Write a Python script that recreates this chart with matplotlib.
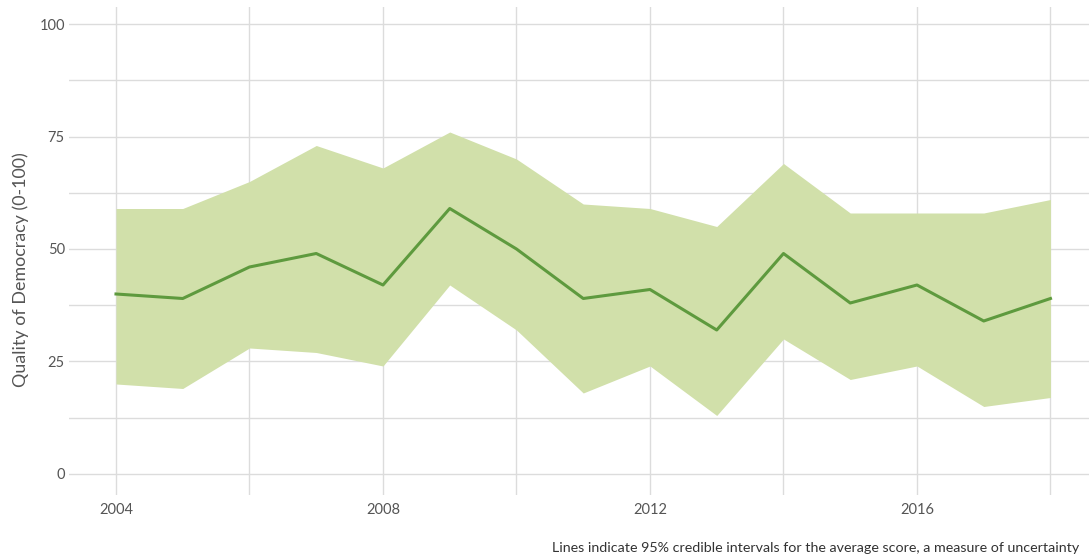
import matplotlib
matplotlib.use("Agg")
import matplotlib.pyplot as plt
import numpy as np

years = list(range(2004, 2019))
mean_score = [40, 39, 46, 49, 42, 59, 50, 39, 41, 32, 49, 38, 42, 34, 39]
upper = [59, 59, 65, 73, 68, 76, 70, 60, 59, 55, 69, 58, 58, 58, 61]
lower = [20, 19, 28, 27, 24, 42, 32, 18, 24, 13, 30, 21, 24, 15, 17]

y_major = [0, 25, 50, 75, 100]
x_major = [2004, 2008, 2012, 2016]

plt.rcParams['font.family'] = ['Lato', 'DejaVu Sans']

fig = plt.figure(figsize=(10.89, 5.59), dpi=100)
ax = fig.add_axes([69/1089, 1 - 495/559, 1 - 69/1089, (495 - 7)/559])

ax.fill_between(years, lower, upper, color='#d1e0aa', linewidth=0, zorder=2)
ax.plot(years, mean_score, color='#5e9a3e', linewidth=2.2, zorder=3)

ax.set_xlim(2003.296, 2018.577)
ax.set_ylim(-4.67, 103.78)
ax.set_yticks(y_major)
ax.set_yticks([12.5, 37.5, 62.5, 87.5], minor=True)
ax.set_xticks(x_major)
ax.set_xticks([2006, 2010, 2014, 2018], minor=True)
ax.set_xticklabels([str(x) for x in x_major])
ax.set_yticklabels([str(y) for y in y_major])

ax.grid(True, which='both', color='#dcdcdc', linewidth=1.0, zorder=0)
ax.set_axisbelow(True)
for s in ax.spines.values():
    s.set_visible(False)
ax.tick_params(which='both', length=0, colors='#555555', labelsize=10.5)
ax.tick_params(axis='x', pad=6)
ax.tick_params(axis='y', pad=3)

ax.set_ylabel('Quality of Democracy (0-100)', fontsize=12.9, color='#555555')
ax.yaxis.set_label_coords(-(69 - 29) / (1089 - 69), (495 - 270) / 488)

fig.text(552/1089, 1 - 548/559, 'Lines indicate 95% credible intervals for the average score, a measure of uncertainty',
         fontsize=10.3, color='#333333', ha='left', va='center')

fig.savefig('out.png', dpi=100)
